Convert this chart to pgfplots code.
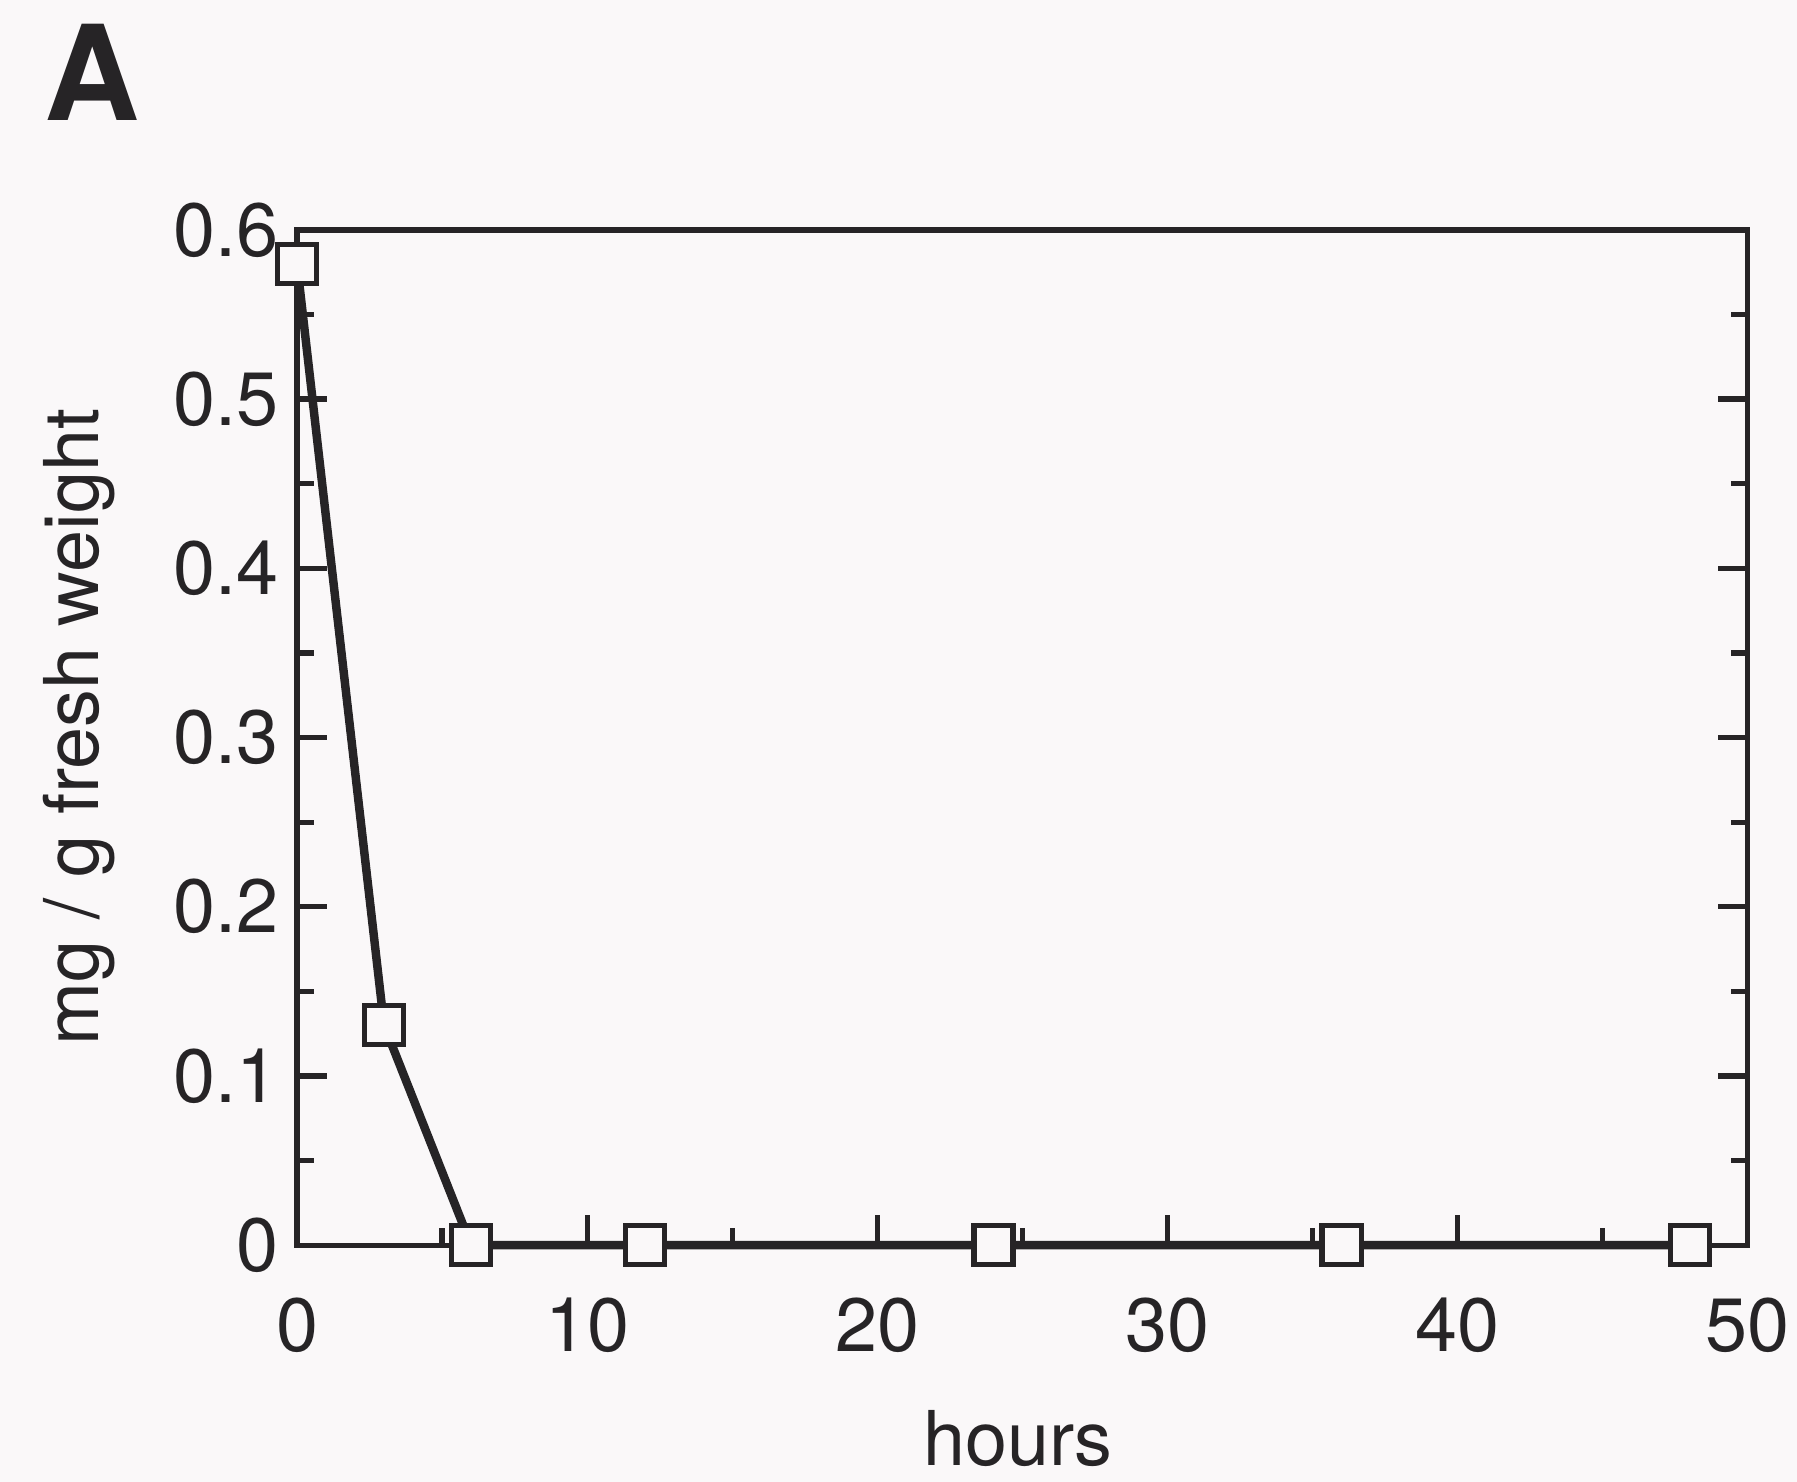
\documentclass[border=0pt]{standalone}
\usepackage{fontspec}
\setmainfont{TeX Gyre Heros}
\usepackage{pgfplots}
\pgfplotsset{compat=1.18}
\definecolor{paper}{RGB}{250,248,249}
\definecolor{ink}{RGB}{38,36,38}

\begin{document}
\begin{tikzpicture}
\path[use as bounding box, fill=paper] (-56.2pt,-44.8pt) rectangle (283.8pt,235.6pt);

\begin{axis}[
    scale only axis,
    width=274.5pt, height=192.1pt,
    xmin=0, xmax=50, ymin=0, ymax=0.6,
    xtick={0,10,20,30,40,50},
    ytick={0,0.1,0.2,0.3,0.4,0.5,0.6},
    minor x tick num=1, minor y tick num=1,
    xtick pos=left, ytick pos=both,
    tick align=inside,
    major tick length=5.7pt, minor tick length=3.2pt,
    axis line style={ink, line width=1pt},
    every tick/.style={ink, line width=1pt},
    /pgf/number format/assume math mode=true,
    yticklabel style={/pgf/number format/fixed},
    tick label style={font=\fontsize{14.3}{16}\selectfont, text=ink},
    xticklabel style={yshift=-6.5pt},
    xlabel={hours}, ylabel={mg / g fresh weight},
    label style={font=\fontsize{14.3}{16}\selectfont, text=ink},
    xlabel style={at={(axis description cs:0.497,-0.19)}, anchor=center},
    ylabel style={at={(axis description cs:-0.150,0.51)}, anchor=center},
    clip=false,
]
\addplot[ink, line width=1.6pt, mark=square*,
    mark size=3.7pt, mark options={fill=paper, draw=ink, line width=1pt}]
    coordinates {
        (0, 0.58)
        (3, 0.13)
        (6, 0)
        (12, 0)
        (24, 0)
        (36, 0)
        (48, 0)
    };
\end{axis}

\node[font=\fontsize{25}{28}\selectfont\bfseries, text=ink, anchor=center]
    at (-38.8pt,222pt) {A};
\end{tikzpicture}
\end{document}
